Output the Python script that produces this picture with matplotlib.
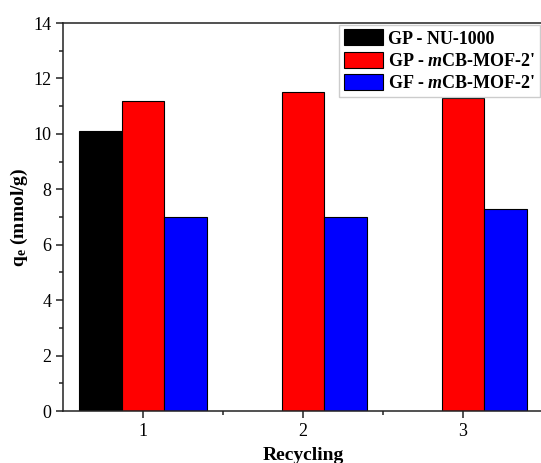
import matplotlib.pyplot as plt
import numpy as np

plt.rcParams['font.family'] = 'Liberation Serif'
plt.rcParams['mathtext.fontset'] = 'custom'
plt.rcParams['mathtext.rm'] = 'Liberation Serif'
plt.rcParams['mathtext.bf'] = 'Liberation Serif:bold'
plt.rcParams['mathtext.bfit'] = 'Liberation Serif:italic:bold'
plt.rcParams['mathtext.it'] = 'Liberation Serif:italic'

# данные
cycles = [1, 2, 3]
gp_nu1000 = [10.1, np.nan, np.nan]
gp_mcb = [11.2, 11.5, 11.3]
gf_mcb = [7.0, 7.0, 7.3]
labels = ['GP - NU-1000', "GP - $\\mathbfit{m}$CB-MOF-2'", "GF - $\\mathbfit{m}$CB-MOF-2'"]
colors = ['black', 'red', 'blue']

# построение графика
fig = plt.figure(figsize=(5.41, 4.63), dpi=100)
ax = fig.add_axes([0.1165, 0.1123, 0.887, 0.838])

x = np.array(cycles)
w = 0.8 / 3
for i, (vals, lab, c) in enumerate(zip([gp_nu1000, gp_mcb, gf_mcb], labels, colors)):
    ax.bar(x + (i - 1) * w, vals, width=w, color=c, edgecolor='black', linewidth=0.8, label=lab)

ax.set_xlim(0.5, 3.5)
ax.set_ylim(0, 14)
ax.set_xticks(cycles)
ax.set_xticks([1.5, 2.5], minor=True)
ax.set_yticks(np.arange(0, 15, 2))
ax.set_yticks(np.arange(1, 14, 2), minor=True)
for s in ax.spines.values():
    s.set_linewidth(1.1)
    s.set_color('#222222')
ax.tick_params(which='both', direction='out', labelsize=13, width=1.1, color='#222222')
ax.tick_params(which='major', length=5)
ax.tick_params(which='minor', length=3)
ax.set_xlabel('Recycling', fontsize=14, fontweight='bold', labelpad=5)
ax.set_ylabel(r'q$_{\mathbf{e}}$ (mmol/g)', fontsize=14, fontweight='bold', labelpad=2)

ax.legend(loc='upper right', bbox_to_anchor=(0.9975, 1.0), prop={'weight': 'bold', 'size': 13},
          fancybox=False, edgecolor='#cccccc', framealpha=1, handlelength=2.2, handleheight=1.0,
          handletextpad=0.25, borderpad=0.25, labelspacing=0.22, borderaxespad=0.1)

plt.savefig('out.png', dpi=100)
